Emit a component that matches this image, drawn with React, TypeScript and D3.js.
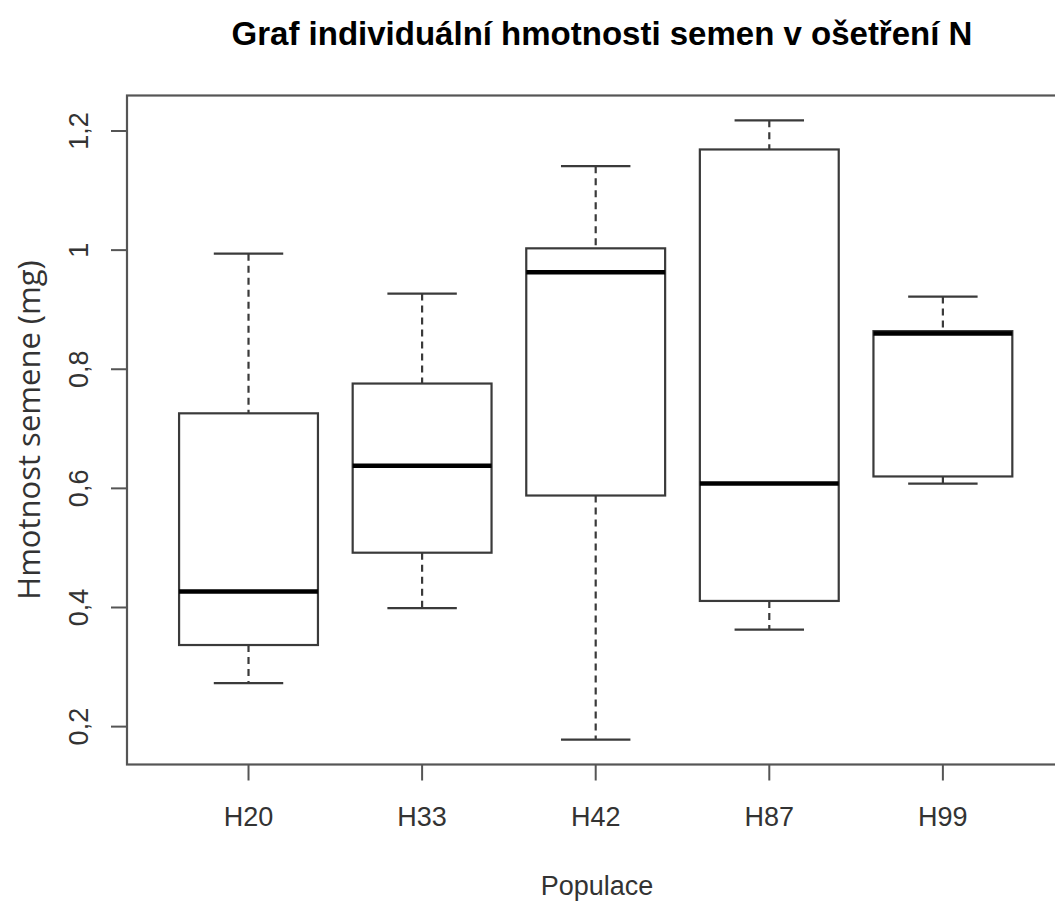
import React from "react";
import * as d3 from "d3";

const categories = ["H20", "H33", "H42", "H87", "H99"];
const whiskerLow = [0.273, 0.399, 0.178, 0.363, 0.608];
const q1 = [0.337, 0.492, 0.588, 0.411, 0.62];
const median = [0.427, 0.638, 0.963, 0.608, 0.86];
const q3 = [0.726, 0.776, 1.003, 1.169, 0.864];
const whiskerHigh = [0.994, 0.927, 1.141, 1.218, 0.922];
const yTicks = [0.2, 0.4, 0.6, 0.8, 1.0, 1.2];
const title = "Graf individuální hmotnosti semen v ošetření N";
const xLabel = "Populace";
const yLabel = "Hmotnost semene (mg)";

const W = 1055;
const H = 902;
const left = 127;
const right = 1064.4;
const top = 95.5;
const bottom = 764.5;

export default function App() {
  const n = categories.length;
  const x = d3.scaleLinear().domain([1 - 0.7, n + 0.7]).range([left, right]);
  const ymin = d3.min(whiskerLow)!;
  const ymax = d3.max(whiskerHigh)!;
  const ext = (ymax - ymin) * 0.04;
  const y = d3.scaleLinear().domain([ymin - ext, ymax + ext]).range([bottom, top]);
  const boxW = (x(2) - x(1)) * 0.8;
  const fmt = (v: number) => String(+v.toFixed(1)).replace(".", ",");
  const font = "'Liberation Sans', Arial, sans-serif";
  const boxStroke = "#3a3a3a";

  return (
    <svg width={W} height={H} style={{ position: "absolute", left: 0, top: 0, background: "#fff" }}>
      <text x={602} y={45} textAnchor="middle" fontFamily={font} fontWeight="bold" fontSize={33} fill="#000">
        {title}
      </text>
      {categories.map((c, i) => {
        const cx = x(i + 1);
        return (
          <g key={c}>
            <line x1={cx} x2={cx} y1={y(whiskerHigh[i])} y2={y(q3[i])} stroke={boxStroke} strokeWidth={2.2} strokeDasharray="7,5" />
            <line x1={cx} x2={cx} y1={y(q1[i])} y2={y(whiskerLow[i])} stroke={boxStroke} strokeWidth={2.2} strokeDasharray="7,5" />
            <line x1={cx - boxW / 4} x2={cx + boxW / 4} y1={y(whiskerHigh[i])} y2={y(whiskerHigh[i])} stroke={boxStroke} strokeWidth={2.2} />
            <line x1={cx - boxW / 4} x2={cx + boxW / 4} y1={y(whiskerLow[i])} y2={y(whiskerLow[i])} stroke={boxStroke} strokeWidth={2.2} />
            <rect x={cx - boxW / 2} y={y(q3[i])} width={boxW} height={y(q1[i]) - y(q3[i])} fill="#fff" stroke={boxStroke} strokeWidth={2.2} />
            <line x1={cx - boxW / 2} x2={cx + boxW / 2} y1={y(median[i])} y2={y(median[i])} stroke="#000" strokeWidth={4.5} />
          </g>
        );
      })}
      <rect x={left} y={top} width={right - left} height={bottom - top} fill="none" stroke="#555" strokeWidth={2.2} />
      {yTicks.map((t) => (
        <g key={t}>
          <line x1={left - 16} x2={left} y1={y(t)} y2={y(t)} stroke="#555" strokeWidth={2} />
          <text
            transform={`translate(${88},${y(t)}) rotate(-90)`}
            textAnchor="middle"
            fontFamily={font}
            fontSize={27}
            fill="#333"
          >
            {fmt(t)}
          </text>
        </g>
      ))}
      {categories.map((c, i) => (
        <g key={c}>
          <line x1={x(i + 1)} x2={x(i + 1)} y1={bottom} y2={bottom + 16} stroke="#555" strokeWidth={2} />
          <text x={x(i + 1)} y={826} textAnchor="middle" fontFamily={font} fontSize={27} fill="#333">
            {c}
          </text>
        </g>
      ))}
      <text x={597} y={895} textAnchor="middle" fontFamily={font} fontSize={27} fill="#333">
        {xLabel}
      </text>
      <text
        transform={`translate(${40},${(top + bottom) / 2}) rotate(-90)`}
        textAnchor="middle"
        fontFamily="'Open Sans', 'Liberation Sans', sans-serif"
        fontSize={31}
        fill="#333"
      >
        {yLabel}
      </text>
    </svg>
  );
}
